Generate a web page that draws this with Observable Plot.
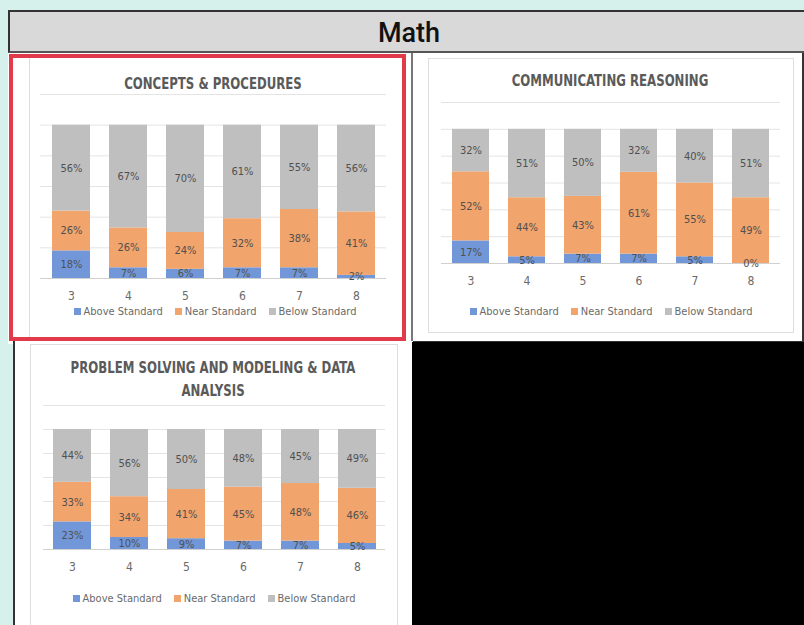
<!DOCTYPE html>
<html>
<head>
<meta charset="utf-8">
<script src="https://cdn.jsdelivr.net/npm/d3@7"></script>
<script src="https://cdn.jsdelivr.net/npm/@observablehq/plot@0.6"></script>
<style>
  html, body { margin: 0; padding: 0; }
  body { width: 804px; height: 625px; overflow: hidden; position: relative; background: #d6f1eb;
         font-family: "Liberation Sans Narrow", "DejaVu Sans Condensed", "Roboto Condensed", sans-serif; }
  .abs { position: absolute; box-sizing: border-box; }
  .title { position: absolute; text-align: center; font-weight: bold; color: #5a5a5a; font-size: 15px; line-height: 23px;
           white-space: nowrap; transform: scaleX(0.87); transform-origin: center top; }
  .legend { position: absolute; display: flex; justify-content: center; gap: 12px; font-size: 11px; color: #6a6a6a; white-space: nowrap; }
  .legend span.sw { display: inline-block; width: 7px; height: 7px; margin-right: 3px; vertical-align: 0px; }
  .chart { position: absolute; }
</style>
</head>
<body>
<script>
const grades = ["3", "4", "5", "6", "7", "8"];
const levels = ["Above Standard", "Near Standard", "Below Standard"];
const levelColors = ["#7197d8", "#f1a46c", "#bfbfbf"];

const cpAbove = [18, 7, 6, 7, 7, 2];
const cpNear  = [26, 26, 24, 32, 38, 41];
const cpBelow = [56, 67, 70, 61, 55, 56];

const crAbove = [17, 5, 7, 7, 5, 0];
const crNear  = [52, 44, 43, 61, 55, 49];
const crBelow = [32, 51, 50, 32, 40, 51];

const psAbove = [23, 10, 9, 7, 7, 5];
const psNear  = [33, 34, 41, 45, 48, 46];
const psBelow = [44, 56, 50, 48, 45, 49];

const headerText = "Math";
const titleCP = ["CONCEPTS & PROCEDURES"];
const titleCR = ["COMMUNICATING REASONING"];
const titlePS = ["PROBLEM SOLVING AND MODELING & DATA", "ANALYSIS"];

const FONT = '"Liberation Sans Narrow", "DejaVu Sans Condensed", "Roboto Condensed", sans-serif';

function box(css, parent = document.body) {
  const d = document.createElement("div");
  d.className = "abs";
  Object.assign(d.style, css);
  parent.appendChild(d);
  return d;
}

function tidy(above, near, below) {
  const rows = [];
  grades.forEach((g, i) => {
    rows.push({grade: g, level: levels[0], value: above[i]});
    rows.push({grade: g, level: levels[1], value: near[i]});
    rows.push({grade: g, level: levels[2], value: below[i]});
  });
  return rows;
}

function chart(data, o) {
  const svg = Plot.plot({
    width: o.width, height: o.height,
    marginLeft: o.ml, marginRight: o.mr, marginTop: o.mt, marginBottom: o.mb,
    x: {domain: grades, paddingInner: 0.34, paddingOuter: 0.17, label: null, tickSize: 0, tickPadding: 13},
    y: {domain: [0, 1.2], axis: null},
    color: {domain: levels, range: levelColors},
    style: {fontFamily: FONT, fontSize: "12px", color: "#6a6a6a", background: "transparent", overflow: "visible"},
    marks: [
      Plot.ruleY(d3.range(1, 7).map(i => i * 0.2), {stroke: "#e4e4e4"}),
      Plot.barY(data, Plot.stackY({x: "grade", y: "value", fill: "level", z: "level", order: levels, offset: "normalize"})),
      Plot.ruleY([0], {stroke: "#d0d0d0"}),
      Plot.text(data, Plot.stackY({x: "grade", y: "value", z: "level", order: levels, offset: "normalize",
        text: d => d.value + "%", fill: "#505050", fontSize: 11}))
    ]
  });
  const wrap = document.createElement("div");
  wrap.className = "chart";
  wrap.style.left = o.left + "px";
  wrap.style.top = o.top + "px";
  wrap.appendChild(svg);
  document.body.appendChild(wrap);
}

function title(lines, cx, top) {
  const t = document.createElement("div");
  t.className = "title";
  t.style.left = (cx - 200) + "px";
  t.style.width = "400px";
  t.style.top = top + "px";
  t.innerHTML = lines.join("<br>");
  document.body.appendChild(t);
}

function legend(cx, top) {
  const l = document.createElement("div");
  l.className = "legend";
  l.style.left = (cx - 200) + "px";
  l.style.width = "400px";
  l.style.top = top + "px";
  levels.forEach((lv, i) => {
    const s = document.createElement("div");
    s.innerHTML = `<span class="sw" style="background:${levelColors[i]}"></span>${lv}`;
    l.appendChild(s);
  });
  document.body.appendChild(l);
}

// table structure
box({left: "8px", top: "10px", width: "800px", height: "334px", background: "#ffffff"});
const hdr = box({left: "8px", top: "10px", width: "800px", height: "43px", background: "#d9d9d9",
  borderTop: "2px solid #333", borderLeft: "2px solid #333", borderBottom: "2px solid #555"});
const ht = document.createElement("div");
Object.assign(ht.style, {position: "absolute", left: "0", right: "0", top: "5px", textAlign: "center",
  fontFamily: 'Roboto, "Liberation Sans", Arial, sans-serif', fontWeight: "500", fontSize: "27px", color: "#111"});
ht.textContent = headerText;
hdr.appendChild(ht);

// cell 2 (top right)
box({left: "411px", top: "53px", width: "393px", height: "290px", background: "#fff",
  borderLeft: "2px solid #777", borderBottom: "2px solid #333", borderRight: "2px solid #333"});
// cell 3 (bottom left)
box({left: "13px", top: "341px", width: "400px", height: "290px", background: "#fff", borderLeft: "2px solid #333"});
// cell 4 black
box({left: "412px", top: "342px", width: "400px", height: "290px", background: "#000"});

// inner chart frames
box({left: "29px", top: "57px", width: "374px", height: "282px", border: "1px solid #dedede"});
box({left: "428px", top: "58px", width: "366px", height: "275px", border: "1px solid #dedede"});
box({left: "30px", top: "344px", width: "368px", height: "290px", border: "1px solid #dedede"});

// red highlight
box({left: "9px", top: "54px", width: "397px", height: "287px", border: "4px solid #e03a4b"});

// panel 1
title(titleCP, 213, 73);
chart(tidy(cpAbove, cpNear, cpBelow), {left: 30, top: 84, width: 372, height: 220, ml: 10, mr: 16, mt: 10, mb: 26});
legend(215, 305);

// panel 2
title(titleCR, 610, 70);
chart(tidy(crAbove, crNear, crBelow), {left: 420, top: 92, width: 380, height: 195, ml: 21, mr: 20, mt: 10, mb: 24});
legend(611, 305);

// panel 3
title(titlePS, 213, 357);
chart(tidy(psAbove, psNear, psBelow), {left: 30, top: 395, width: 370, height: 180, ml: 13, mr: 15, mt: 10, mb: 26});
legend(214, 592);
</script>
</body>
</html>
